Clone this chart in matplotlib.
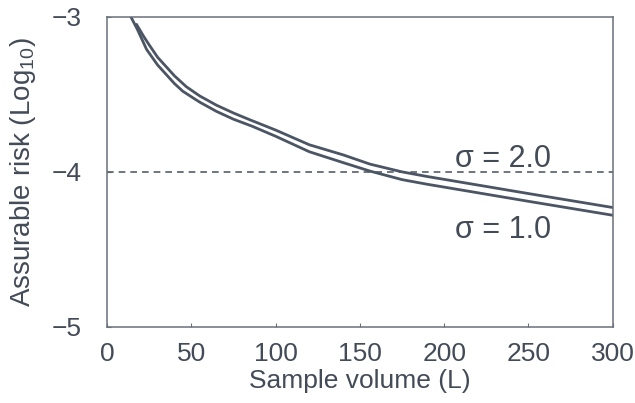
import numpy as np
import matplotlib
matplotlib.use("Agg")
import matplotlib.pyplot as plt

plt.rcParams['font.family'] = ['Liberation Sans', 'DejaVu Sans']
plt.rcParams['mathtext.fontset'] = 'custom'
plt.rcParams['mathtext.rm'] = 'Liberation Sans'

# values
vol_s2 = [17.6, 22, 25, 30, 35, 40, 47, 55, 65, 75, 85, 100, 120, 140, 156, 175, 190, 220, 250, 275, 300]
risk_s2 = [-3.05, -3.13, -3.18, -3.26, -3.32, -3.38, -3.45, -3.51, -3.57, -3.62, -3.665,
           -3.73, -3.825, -3.89, -3.95, -4.0, -4.03, -4.085, -4.14, -4.185, -4.23]

vol_s1 = [14.2, 18, 23.5, 30, 35, 40, 45, 55, 65, 75, 86, 100, 120, 140, 156, 175, 190, 220, 250, 275, 300]
risk_s1 = [-3.0, -3.08, -3.21, -3.31, -3.37, -3.43, -3.48, -3.55, -3.61, -3.66, -3.705,
           -3.77, -3.87, -3.94, -3.995, -4.05, -4.08, -4.135, -4.19, -4.235, -4.28]

threshold = -4
xticks = [0, 50, 100, 150, 200, 250, 300]
yticks = [-5, -4, -3]

txt = '#434b57'
line_c = '#4b5563'

fig = plt.figure(figsize=(6.35, 4.03), dpi=100)
ax = fig.add_axes([0.1685, 0.189, 0.7965, 0.769])

ax.axhline(threshold, color='#555d68', lw=1.2, ls=(0, (4, 3)))
ax.plot(vol_s2, risk_s2, color=line_c, lw=2)
ax.plot(vol_s1, risk_s1, color=line_c, lw=2)

ax.text(235, -3.92, "σ = 2.0", fontsize=22, color=txt, ha='center', va='center')
ax.text(235, -4.375, "σ = 1.0", fontsize=22, color=txt, ha='center', va='center')

ax.set_xlim(0, 300)
ax.set_ylim(-5, -3)
ax.set_xticks(xticks)
ax.set_yticks(yticks)
ax.tick_params(direction='in', length=3, labelsize=19, colors='#6a707a',
               labelcolor=txt)
ax.tick_params(axis='x', pad=11)
ax.tick_params(axis='y', pad=18)
for s in ax.spines.values():
    s.set_linestyle((0, (2, 1)))
    s.set_color('#6a707a')
    s.set_linewidth(1.1)

ax.set_xlabel("Sample volume (L)", fontsize=19, color=txt, labelpad=2)
ax.set_ylabel(r"Assurable risk (Log$_{\mathregular{10}}$)", fontsize=20, color=txt, labelpad=10)

fig.savefig("out.png", dpi=100)
